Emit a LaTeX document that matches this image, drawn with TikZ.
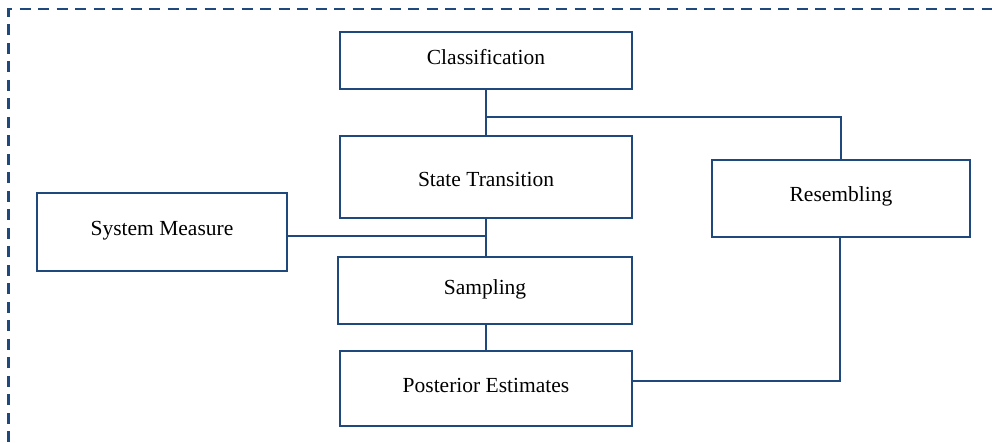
\documentclass[tikz,border=0pt]{standalone}
\usepackage{fontspec}
\setmainfont{Liberation Serif}
\definecolor{boxblue}{RGB}{31,73,125}
\begin{document}
\begin{tikzpicture}[x=1pt,y=-1pt,
  box/.style={draw=boxblue,line width=2.6pt,fill=white,inner sep=0pt,font=\fontsize{21.5}{24}\selectfont},
  conn/.style={draw=boxblue,line width=2.2pt},
  frame/.style={draw=boxblue,line width=2.3pt,dash pattern=on 11pt off 7.5pt}]
\useasboundingbox (0,0) rectangle (992,442);
\draw[frame] (8.5,442) -- (8.5,9) -- (992,9);
\node[box,minimum width=292pt,minimum height=57pt,text height=14pt,text depth=6pt] (cls) at (486,60.5) {Classification};
\node[box,minimum width=292pt,minimum height=82pt,text height=18pt,text depth=0pt] (st) at (486,177) {State Transition};
\node[box,minimum width=258pt,minimum height=77pt,text height=14pt,text depth=9pt] (res) at (841,198.5) {Resembling};
\node[box,minimum width=250pt,minimum height=78pt,text height=14pt,text depth=8pt] (sm) at (162,232) {System Measure};
\node[box,minimum width=294pt,minimum height=67pt,text height=14pt,text depth=6pt] (samp) at (485,290.5) {Sampling};
\node[box,minimum width=292pt,minimum height=75pt,text height=14pt,text depth=7pt] (post) at (486,388.5) {Posterior Estimates};
\coordinate (j1) at (486,117);
\coordinate (j2) at (486,236);
\coordinate (j3) at (840,381);
\draw[conn] (cls.south) -- (st.north);
\draw[conn] (j1) -| (res.north);
\draw[conn] (st.south) -- (st.south |- samp.north);
\draw[conn] (j2 -| sm.east) -- (j2);
\draw[conn] (samp.south -| post.north) -- (post.north);
\draw[conn] (j3 -| post.east) -- (j3) -- (j3 |- res.south);
\end{tikzpicture}
\end{document}
